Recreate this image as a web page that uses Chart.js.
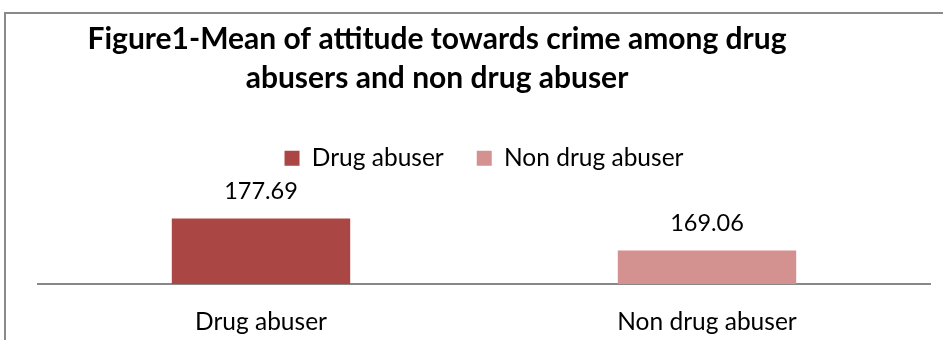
<!DOCTYPE html>
<html>
<head>
<meta charset="utf-8">
<script src="https://cdn.jsdelivr.net/npm/chart.js@4.4.1/dist/chart.umd.min.js"></script>
<style>
  html, body { margin: 0; padding: 0; background: #ffffff; }
  #wrap { position: relative; width: 943px; height: 340px; }
</style>
</head>
<body>
<div id="wrap"><canvas id="chart" width="943" height="340"></canvas></div>
<script>
// Chart text and values
const titleLines = ['Figure1-Mean of attitude towards crime among drug', 'abusers and non drug abuser'];
const categories = ['Drug abuser', 'Non drug abuser'];
const meanScores = [177.69, 169.06];
const barColors = ['#AA4644', '#D39190'];
const yAxisMin = 160;
const yAxisMax = 188;

const FONT = 'Lato, "Open Sans", "Liberation Sans", sans-serif';

// Outer frame and two-line bold title
const framePlugin = {
  id: 'frameAndTitle',
  beforeDraw(chart) {
    const ctx = chart.ctx;
    ctx.save();
    ctx.strokeStyle = '#8a8a8a';
    ctx.lineWidth = 2;
    ctx.beginPath();
    ctx.moveTo(5, 340);
    ctx.lineTo(5, 13);
    ctx.lineTo(943, 13);
    ctx.stroke();
    ctx.fillStyle = '#000000';
    ctx.font = 'bold 30px ' + FONT;
    ctx.textAlign = 'center';
    ctx.textBaseline = 'alphabetic';
    ctx.fillText(titleLines[0], 437, 49);
    ctx.fillText(titleLines[1], 437, 88);
    ctx.restore();
  }
};

// Value labels above each bar
const valueLabels = {
  id: 'valueLabels',
  afterDatasetsDraw(chart) {
    const ctx = chart.ctx;
    const meta = chart.getDatasetMeta(0);
    ctx.save();
    ctx.fillStyle = '#000000';
    ctx.font = '23.5px ' + FONT;
    ctx.textAlign = 'center';
    ctx.textBaseline = 'alphabetic';
    meta.data.forEach((bar, i) => {
      const v = chart.data.datasets[0].data[i];
      ctx.fillText(v.toFixed(2), bar.x, bar.y - 20);
    });
    ctx.restore();
  }
};

new Chart(document.getElementById('chart'), {
  type: 'bar',
  data: {
    labels: categories,
    datasets: [{
      label: 'Mean',
      data: meanScores,
      backgroundColor: barColors,
      borderWidth: 0,
      categoryPercentage: 1.0,
      barPercentage: 0.4
    }]
  },
  options: {
    responsive: false,
    animation: false,
    devicePixelRatio: 1,
    layout: { padding: { left: 38, right: 13, top: 113, bottom: 0 } },
    plugins: {
      title: { display: false },
      tooltip: { enabled: false },
      legend: {
        display: true,
        position: 'top',
        labels: {
          font: { family: FONT, size: 24.5 },
          color: '#000000',
          boxWidth: 15,
          boxHeight: 15,
          padding: 33,
          generateLabels(chart) {
            return categories.map((c, i) => ({
              text: c,
              fillStyle: barColors[i],
              strokeStyle: barColors[i],
              lineWidth: 0,
              fontColor: '#000000',
              index: i
            }));
          }
        }
      }
    },
    scales: {
      x: {
        grid: { display: false, drawTicks: false },
        border: { display: true, color: '#888888', width: 2 },
        ticks: {
          font: { family: FONT, size: 24.5 },
          color: '#000000',
          padding: 23
        },
        afterFit(scale) { scale.height = 56; }
      },
      y: {
        display: false,
        min: yAxisMin,
        max: yAxisMax
      }
    }
  },
  plugins: [framePlugin, valueLabels]
});
</script>
</body>
</html>
